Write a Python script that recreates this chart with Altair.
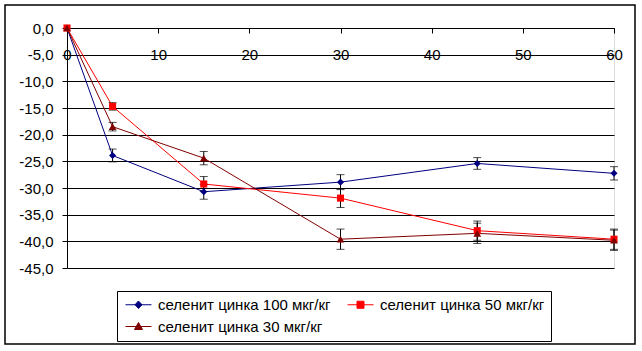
import altair as alt
import pandas as pd

series_names = ["селенит цинка 100 мкг/кг", "селенит цинка 50 мкг/кг", "селенит цинка 30 мкг/кг"]
series_colors = ["#000080", "#FF0000", "#800000"]
point_shapes = ["diamond", "square", "triangle-up"]
point_sizes = [50, 50, 60]
# legend entry order (column-major fill gives rows: 100 | 50 ; 30)
legend_order = ["селенит цинка 100 мкг/кг", "селенит цинка 30 мкг/кг", "селенит цинка 50 мкг/кг"]
legend_colors = ["#000080", "#800000", "#FF0000"]
legend_paths = [
    "M-1,0H4.2M0.9,0L1.6,-0.75L2.3,0L1.6,0.75Z",
    "M-1,0H4.2M0.8,0.6L1.6,-0.8L2.4,0.6Z",
    "M-1,0H4.2M0.9,-0.7H2.3V0.7H0.9Z",
]

time_min = [0, 5, 15, 30, 45, 60]
vals_100 = [0.0, -23.9, -30.7, -28.9, -25.4, -27.25]
vals_50 = [0.0, -14.7, -29.25, -31.9, -38.0, -39.6]
vals_30 = [0.0, -18.5, -24.4, -39.6, -38.5, -39.8]
err_100 = [0.0, 1.2, 1.4, 1.4, 1.1, 1.25]
err_50 = [0.0, 0.7, 1.4, 1.75, 1.8, 1.9]
err_30 = [0.0, 0.8, 1.25, 1.9, 1.9, 1.9]

x_ticks = [0, 10, 20, 30, 40, 50, 60]
y_ticks = [-45, -40, -35, -30, -25, -20, -15, -10, -5, 0]

rows = []
for name, vals, errs in zip(series_names, [vals_100, vals_50, vals_30], [err_100, err_50, err_30]):
    for t, v, e in zip(time_min, vals, errs):
        rows.append({"series": name, "t": t, "v": v, "lo": v - e, "hi": v + e, "e": e})
df = pd.DataFrame(rows)

FONT = "Liberation Sans"
W, H = 547, 240

xs = alt.Scale(domain=[0, 60], nice=False, zero=False)
ys = alt.Scale(domain=[-45, 0], nice=False)
cscale = alt.Scale(domain=series_names, range=series_colors)

base = alt.Chart(df)

x_enc = alt.X("t:Q", scale=xs, axis=alt.Axis(
    values=x_ticks, tickCount=len(x_ticks), orient="bottom", offset=-H, title=None, grid=False,
    domainColor="black", tickColor="black", tickSize=5, labelPadding=14,
    labelFontSize=15, labelFont=FONT, labelColor="black", format="d",
    labelFlush=False, labelOverlap=False))
y_enc = alt.Y("v:Q", scale=ys, axis=alt.Axis(
    values=y_ticks, tickCount=len(y_ticks), title=None, grid=True, gridColor="black",
    gridWidth=1, gridOpacity=1,
    domainColor="black", tickColor="black", tickSize=5, labelPadding=9,
    labelFontSize=15, labelFont=FONT, labelColor="black", labelOverlap=False,
    format=".1f"))

lines = base.mark_line(strokeWidth=1).encode(
    x=x_enc, y=y_enc,
    color=alt.Color("series:N", scale=cscale, legend=None),
    detail="series:N",
)

err_df = df[df["e"] > 0]
eb = alt.Chart(err_df)
err_rule = eb.mark_rule(color="black", strokeWidth=1).encode(
    x=alt.X("t:Q", scale=xs), y=alt.Y("lo:Q", scale=ys), y2="hi:Q")
cap_lo = eb.mark_tick(color="black", orient="horizontal", size=8, thickness=1).encode(
    x=alt.X("t:Q", scale=xs), y=alt.Y("lo:Q", scale=ys))
cap_hi = eb.mark_tick(color="black", orient="horizontal", size=8, thickness=1).encode(
    x=alt.X("t:Q", scale=xs), y=alt.Y("hi:Q", scale=ys))

point_layers = []
for name, col, shp, sz in zip(series_names, series_colors, point_shapes, point_sizes):
    point_layers.append(
        base.transform_filter(alt.datum.series == name).mark_point(
            filled=True, opacity=1, size=sz, shape=shp, color=col).encode(
            x=alt.X("t:Q", scale=xs), y=alt.Y("v:Q", scale=ys))
    )

leg = alt.Legend(title=None, orient="none", legendX=50, legendY=263,
                 columns=2, columnPadding=14, rowPadding=6,
                 padding=6, strokeColor="black", fillColor="white",
                 symbolSize=100, symbolStrokeWidth=1, symbolOpacity=1,
                 labelFontSize=15, labelFont=FONT, labelColor="black",
                 labelOffset=20, labelLimit=0)

legend_layer = base.mark_point(filled=True, opacity=0).encode(
    x=alt.X("t:Q", scale=xs), y=alt.Y("v:Q", scale=ys),
    fill=alt.Fill("series:N", scale=alt.Scale(domain=legend_order, range=legend_colors), legend=leg),
    stroke=alt.Stroke("series:N", scale=alt.Scale(domain=legend_order, range=legend_colors), legend=leg),
    shape=alt.Shape("series:N", scale=alt.Scale(domain=legend_order, range=legend_paths), legend=leg),
)

frame = alt.Chart(pd.DataFrame({"a": [0]})).mark_rect(
    fill="transparent", stroke="black", strokeWidth=1.5).encode(
    x=alt.value(-62), x2=alt.value(568), y=alt.value(-23), y2=alt.value(316))

chart = alt.layer(frame, lines, err_rule, cap_lo, cap_hi, *point_layers, legend_layer).properties(
    width=W, height=H,
    autosize=alt.AutoSizeParams(type="none"),
    padding={"left": 67, "top": 28, "right": 28, "bottom": 83},
    background="white",
).configure_view(stroke=None).configure(
    locale={"number": {"decimal": ",", "thousands": " ", "grouping": [3],
                       "currency": ["", ""], "minus": "-"}}
)

chart.save("out.html", embed_options={"renderer": "svg", "actions": False})
